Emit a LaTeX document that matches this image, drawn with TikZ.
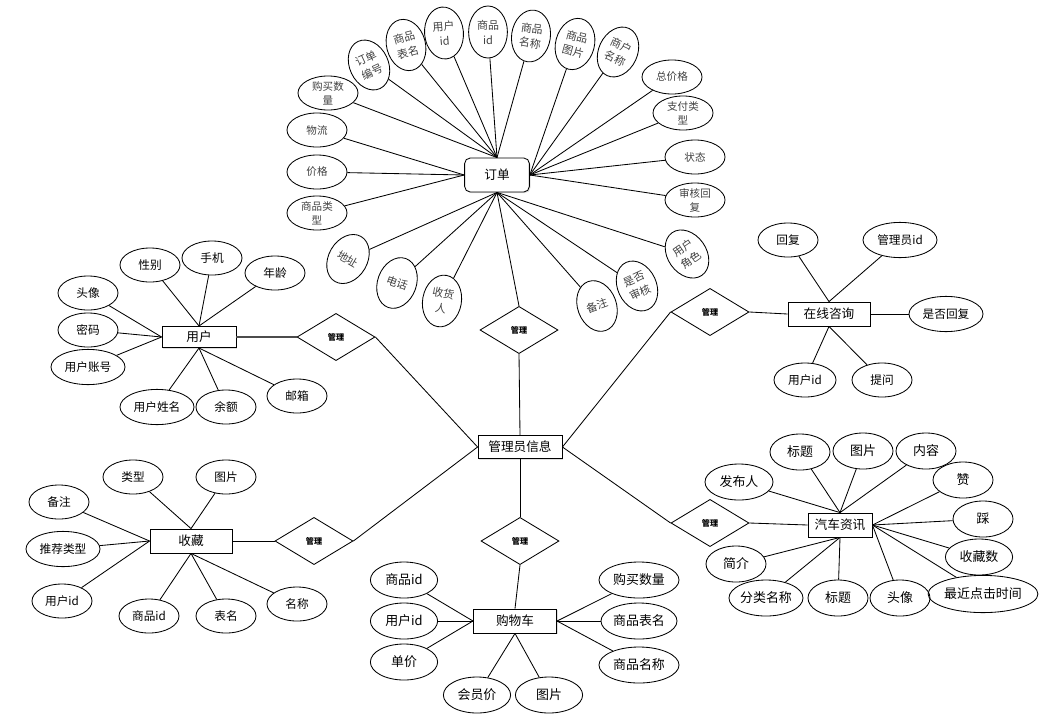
\documentclass[tikz,border=0pt]{standalone}
\usepackage{fontspec}
\setmainfont{Noto Sans CJK SC}
\usetikzlibrary{shapes.geometric,shadows}

\begin{document}
\begin{tikzpicture}[x=0.025cm, y=-0.025cm, line width=0.6pt,
    attr/.style={draw, ellipse, inner sep=0pt, minimum width=1.5cm, minimum height=0.85cm,
        align=center, font=\fontsize{8.3}{9.5}\selectfont},
    wide/.style={attr, minimum width=1.85cm, minimum height=0.88cm},
    big/.style={attr, minimum width=1.68cm, minimum height=0.9cm, font=\fontsize{9.2}{10.5}\selectfont},
    tall/.style={attr, minimum width=0.97cm, minimum height=1.3cm, text=black!75,
        font=\fontsize{7.8}{10.6}\selectfont},
    small/.style={attr, text=black!75, font=\fontsize{7.5}{10}\selectfont},
    ent/.style={draw, rectangle, fill=white, inner sep=0pt, minimum width=2.05cm, minimum height=0.6cm,
        font=\fontsize{9}{10}\selectfont,
        drop shadow={shadow xshift=0.8pt, shadow yshift=-0.8pt, opacity=0.25}},
    rel/.style={draw, diamond, aspect=1.65, inner sep=0pt, minimum width=1.95cm, minimum height=1.18cm,
        font=\fontsize{5.8}{6}\selectfont\bfseries}]

\useasboundingbox (0,0) rectangle (1056,724);

% entities
\node[ent, rounded corners=4pt, minimum width=1.62cm, minimum height=0.85cm] (dd) at (497,175) {订单};
\node[ent, minimum width=2.1cm, minimum height=0.58cm] (gly) at (520,447) {管理员信息};
\node[ent, minimum width=1.85cm, minimum height=0.53cm] (yh) at (199,337) {用户};
\node[ent] (sc) at (191,541) {收藏};
\node[ent, minimum width=2.08cm] (gwc) at (515,621) {购物车};
\node[ent] (zx) at (829,314) {在线咨询};
\node[ent, minimum width=1.6cm] (qc) at (840,525) {汽车资讯};

% relations
\node[rel] (r1) at (519,330) {管理};
\node[rel] (r2) at (336,337) {管理};
\node[rel] (r3) at (314,541) {管理};
\node[rel] (r4) at (520,541) {管理};
\node[rel] (r5) at (710,312) {管理};
\node[rel] (r6) at (710,523) {管理};

\draw (dd.south) -- (r1.north);
\draw (r1.south) -- (gly.north);
\draw (gly.south) -- (r4.north);
\draw (r4.south) -- (gwc.north);
\draw[line width=1.2pt, black!70] (yh.east) -- (r2.west);
\draw (r2.east) -- (gly.west);
\draw (sc.east) -- (r3.west);
\draw (r3.east) -- (gly.west);
\draw (gly.east) -- (r5.west);
\draw (r5.east) -- (zx.west);
\draw (gly.east) -- (r6.west);
\draw (r6.east) -- (qc.west);

% order attributes
\node[small] (o1) at (328,93) {购买数\\量};
\node[tall, rotate=25] (o2) at (369,65) {订单\\编号};
\node[tall, rotate=15] (o3) at (406,45) {商品\\表名};
\node[tall, rotate=5] (o4) at (444,33) {用户\\id};
\node[tall] (o5) at (488,32) {商品\\id};
\node[tall, rotate=-8] (o6) at (531,36) {商品\\名称};
\node[tall, rotate=-15] (o7) at (575,44) {商品\\图片};
\node[tall, rotate=-25] (o8) at (618,52) {商户\\名称};
\node[small] (o9) at (672,77) {总价格};
\node[small] (o10) at (683,113) {支付类\\型};
\node[small] (o11) at (695,157) {状态};
\node[small] (o12) at (695,200) {审核回\\复};
\node[small] (o13) at (317,130) {物流};
\node[small] (o14) at (317,172) {价格};
\node[small] (o15) at (317,213) {商品类\\型};
\node[tall, rotate=-30] (o16) at (348,259) {地址};
\node[tall, rotate=-20] (o17) at (397,283) {电话};
\node[tall, rotate=-10] (o18) at (442,301) {收货\\人};
\node[tall, rotate=20] (o19) at (597,306) {备注};
\node[tall, rotate=25] (o20) at (637,286) {是否\\审核};
\node[tall, rotate=35] (o21) at (687,254) {用户\\角色};
\foreach \a in {o1,o2,o3,o4,o5,o6} \draw (\a) -- (dd.north);
\foreach \a in {o7,o8,o9,o10,o11,o12} \draw (\a) -- (dd.east);
\foreach \a in {o13,o14,o15} \draw (\a) -- (dd.west);
\foreach \a in {o16,o17,o18,o19,o20,o21} \draw (\a) -- (dd.south);

% user attributes
\node[attr] (u1) at (150,265) {性别};
\node[attr] (u2) at (212,258) {手机};
\node[attr] (u3) at (275,273) {年龄};
\node[attr] (u4) at (88,293) {头像};
\node[attr] (u5) at (88,330) {密码};
\node[wide] (u6) at (88,367) {用户账号};
\node[wide] (u7) at (157,407) {用户姓名};
\node[attr] (u8) at (226,407) {余额};
\node[attr] (u9) at (297,396) {邮箱};
\foreach \a in {u1,u2,u3} \draw (\a) -- (yh.north);
\foreach \a in {u4,u5,u6} \draw (\a) -- (yh.west);
\foreach \a in {u7,u8,u9} \draw (\a) -- (yh.south);

% favourite attributes
\node[attr] (s1) at (133,477) {类型};
\node[attr] (s2) at (226,477) {图片};
\node[attr] (s3) at (59,502) {备注};
\node[wide] (s4) at (63,549) {推荐类型};
\node[attr] (s5) at (62,601) {用户id};
\node[attr] (s6) at (149,616) {商品id};
\node[attr] (s7) at (226,616) {表名};
\node[attr] (s8) at (297,604) {名称};
\foreach \a in {s1,s2} \draw (\a) -- (sc.north);
\foreach \a in {s3,s4,s5} \draw (\a) -- (sc.west);
\foreach \a in {s6,s7,s8} \draw (\a) -- (sc.south);

% cart attributes
\node[big] (g1) at (404,580) {商品id};
\node[big] (g2) at (404,621) {用户id};
\node[big] (g3) at (404,662) {单价};
\node[big] (g4) at (477,695) {会员价};
\node[big] (g5) at (549,695) {图片};
\node[big, minimum width=2cm] (g6) at (639,580) {购买数量};
\node[big, minimum width=1.9cm] (g7) at (639,621) {商品表名};
\node[big, minimum width=2cm] (g8) at (639,665) {商品名称};
\foreach \a in {g1,g2,g3} \draw (\a) -- (gwc.west);
\foreach \a in {g4,g5} \draw (\a) -- (gwc.south);
\foreach \a in {g6,g7,g8} \draw (\a) -- (gwc.east);

% consulting attributes
\node[attr] (z1) at (788,240) {回复};
\node[wide] (z2) at (900,240) {管理员id};
\node[wide] (z3) at (946,314) {是否回复};
\node[attr, minimum width=1.55cm] (z4) at (805,380) {用户id};
\node[attr] (z5) at (882,380) {提问};
\foreach \a in {z1,z2} \draw (\a) -- (zx.north);
\draw (z3) -- (zx.east);
\foreach \a in {z4,z5} \draw (\a) -- (zx.south);

% news attributes
\node[big, minimum width=1.7cm] (q1) at (739,482) {发布人};
\node[big, minimum width=1.5cm] (q2) at (800,452) {标题};
\node[big, minimum width=1.5cm] (q3) at (863,451) {图片};
\node[big, minimum width=1.5cm] (q4) at (926,451) {内容};
\node[big, minimum width=1.5cm] (q5) at (963,480) {赞};
\node[big, minimum width=1.5cm] (q6) at (983,519) {踩};
\node[big] (q7) at (979,557) {收藏数};
\node[big, minimum width=2.68cm, minimum height=0.93cm] (q8) at (983,594) {最近点击时间};
\node[big, minimum width=1.5cm] (q9) at (900,598) {头像};
\node[big, minimum width=1.5cm] (q10) at (736,564) {简介};
\node[big, minimum width=1.85cm] (q11) at (766,598) {分类名称};
\node[big, minimum width=1.5cm] (q12) at (838,598) {标题};
\foreach \a in {q1,q2,q3,q4} \draw (\a) -- (qc.north);
\foreach \a in {q5,q6,q7,q8,q9} \draw (\a) -- (qc.east);
\foreach \a in {q10,q11,q12} \draw (\a) -- (qc.south);
\end{tikzpicture}
\end{document}
